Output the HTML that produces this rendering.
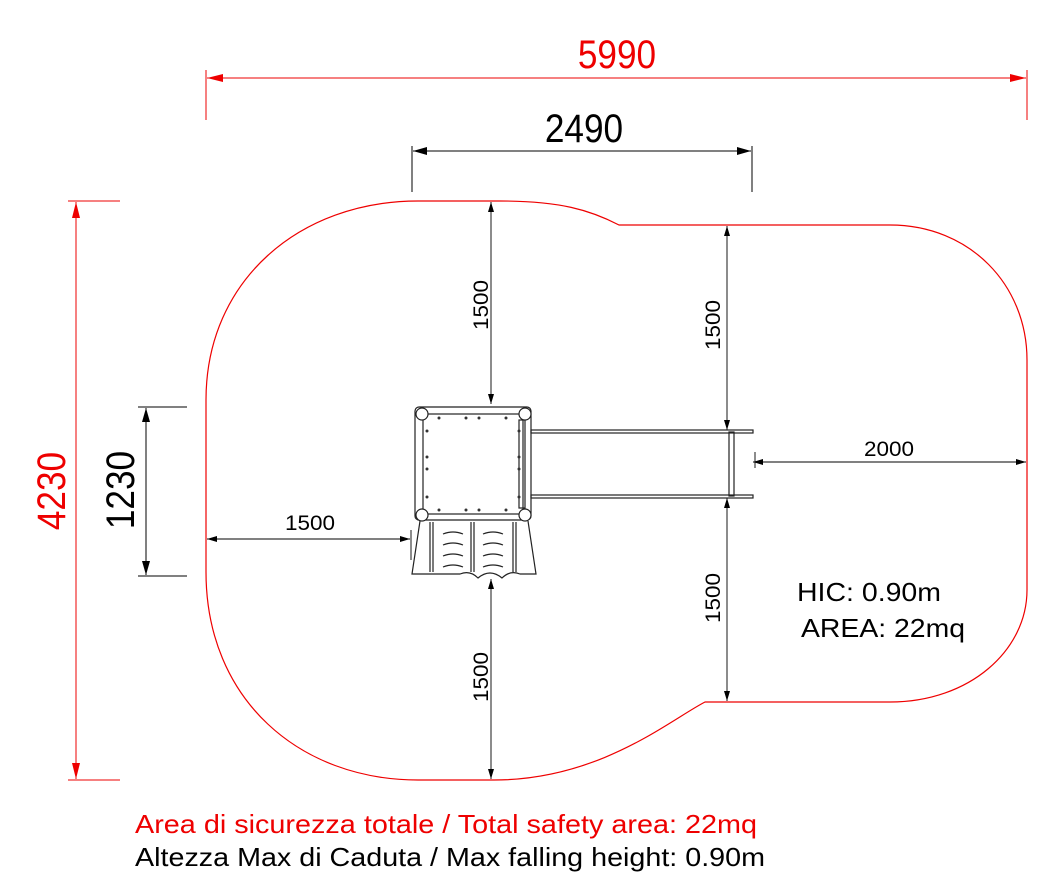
<!DOCTYPE html>
<html><head><meta charset="utf-8"><style>
html,body{margin:0;padding:0;background:#fff;}
svg{display:block;}
text{font-family:"Liberation Sans",Arial,sans-serif;}
</style></head><body>
<svg width="1062" height="894" viewBox="0 0 1062 894" xmlns="http://www.w3.org/2000/svg">
<defs>
<marker id="ab" viewBox="0 0 10 6" refX="10" refY="3" markerWidth="10" markerHeight="6" markerUnits="userSpaceOnUse" orient="auto-start-reverse"><path d="M10,3 L0,0 L0,6 Z" fill="#000"/></marker>
<marker id="ar" viewBox="0 0 16 8" refX="16" refY="4" markerWidth="16" markerHeight="8" markerUnits="userSpaceOnUse" orient="auto-start-reverse"><path d="M16,4 L0,0 L0,8 Z" fill="#e00"/></marker>
<marker id="abig" viewBox="0 0 14 8" refX="14" refY="4" markerWidth="14" markerHeight="8" markerUnits="userSpaceOnUse" orient="auto-start-reverse"><path d="M14,4 L0,0 L0,8 Z" fill="#000"/></marker>
</defs>

<path d="M206,400 C206,280 300,201 418,201 L500,201 C560,201 590,210 619,225 L890,225 C970,225 1027,285 1027,360 L1027,590 C1027,650 970,702 890,702 L705,702 C670,720 600,780 494,780 L418,780 C300,780 206,700 206,572 Z" fill="none" stroke="#e00" stroke-width="1.2"/>

<line x1="206" y1="70" x2="206" y2="120" stroke="#e00" stroke-width="1"/>
<line x1="1027" y1="70" x2="1027" y2="120" stroke="#e00" stroke-width="1"/>
<line x1="207" y1="78" x2="1026" y2="78" stroke="#e00" stroke-width="1" marker-start="url(#ar)" marker-end="url(#ar)"/>
<text x="617" y="68" font-size="40" fill="#e00" text-anchor="middle" transform="translate(617 0) scale(0.88 1) translate(-617 0)">5990</text>

<line x1="412" y1="146" x2="412" y2="192" stroke="#000" stroke-width="1"/>
<line x1="752" y1="146" x2="752" y2="192" stroke="#000" stroke-width="1"/>
<line x1="413" y1="151" x2="751" y2="151" stroke="#000" stroke-width="1" marker-start="url(#abig)" marker-end="url(#abig)"/>
<text x="584" y="142" font-size="40" fill="#000" text-anchor="middle" transform="translate(584 0) scale(0.88 1) translate(-584 0)">2490</text>

<line x1="68" y1="201" x2="120" y2="201" stroke="#e00" stroke-width="1"/>
<line x1="68" y1="780" x2="120" y2="780" stroke="#e00" stroke-width="1"/>
<line x1="76" y1="202" x2="76" y2="779" stroke="#e00" stroke-width="1" marker-start="url(#ar)" marker-end="url(#ar)"/>
<text transform="translate(65 491) rotate(-90) scale(0.88 1)" font-size="40" fill="#e00" text-anchor="middle">4230</text>

<line x1="138" y1="407" x2="187" y2="407" stroke="#000" stroke-width="1"/>
<line x1="138" y1="576" x2="187" y2="576" stroke="#000" stroke-width="1"/>
<line x1="146" y1="408" x2="146" y2="575" stroke="#000" stroke-width="1" marker-start="url(#abig)" marker-end="url(#abig)"/>
<text transform="translate(134 490) rotate(-90) scale(0.88 1)" font-size="40" fill="#000" text-anchor="middle">1230</text>

<g stroke="#000" stroke-width="0.9">
<line x1="207" y1="539" x2="410" y2="539" marker-start="url(#ab)" marker-end="url(#ab)"/>
<line x1="411" y1="530" x2="411" y2="560"/>
<line x1="491" y1="202" x2="491" y2="404" marker-start="url(#ab)" marker-end="url(#ab)"/>
<line x1="491" y1="579" x2="491" y2="779" marker-start="url(#ab)" marker-end="url(#ab)"/>
<line x1="727" y1="226" x2="727" y2="430" marker-start="url(#ab)" marker-end="url(#ab)"/>
<line x1="727" y1="498" x2="727" y2="701" marker-start="url(#ab)" marker-end="url(#ab)"/>
<line x1="753" y1="462" x2="1026" y2="462" marker-start="url(#ab)" marker-end="url(#ab)"/>
<line x1="755" y1="452" x2="755" y2="468"/>
</g>
<g font-size="21" fill="#000">
<text x="285" y="530" textLength="50" lengthAdjust="spacingAndGlyphs">1500</text>
<text transform="translate(488 330) rotate(-90)" textLength="50" lengthAdjust="spacingAndGlyphs">1500</text>
<text transform="translate(488 702) rotate(-90)" textLength="50" lengthAdjust="spacingAndGlyphs">1500</text>
<text transform="translate(720 350) rotate(-90)" textLength="50" lengthAdjust="spacingAndGlyphs">1500</text>
<text transform="translate(720 623) rotate(-90)" textLength="50" lengthAdjust="spacingAndGlyphs">1500</text>
<text x="864" y="456" textLength="50" lengthAdjust="spacingAndGlyphs">2000</text>
</g>
<text x="797" y="601" font-size="26" fill="#000" textLength="144" lengthAdjust="spacingAndGlyphs">HIC: 0.90m</text>
<text x="801" y="637" font-size="26" fill="#000" textLength="164" lengthAdjust="spacingAndGlyphs">AREA: 22mq</text>

<g fill="none" stroke="#222" stroke-width="1.2">
<rect x="415" y="407" width="116" height="113" rx="4"/>
<rect x="423" y="414" width="100" height="100"/>
<rect x="519" y="420" width="6" height="88"/>
<circle cx="422" cy="414" r="6" fill="#fff"/>
<circle cx="525" cy="414" r="6" fill="#fff"/>
<circle cx="422" cy="515" r="6" fill="#fff"/>
<circle cx="525" cy="515" r="6" fill="#fff"/>
<path d="M420,521 L412,574 L460,574 Q470,570 478,578 Q490,568 502,578 Q510,570 520,574 L536,574 L528,521"/>
<line x1="430" y1="522" x2="430" y2="572"/><line x1="433" y1="522" x2="433" y2="572"/>
<line x1="471" y1="522" x2="471" y2="572"/><line x1="474" y1="522" x2="474" y2="572"/>
<line x1="513" y1="522" x2="513" y2="572"/><line x1="516" y1="522" x2="516" y2="572"/>
<path d="M443,534 Q453,530 463,534 M443,545 Q453,541 463,545 M443,556 Q453,552 463,556 M443,567 Q453,563 463,567"/>
<path d="M483,534 Q493,530 503,534 M483,545 Q493,541 503,545 M483,556 Q493,552 503,556 M483,567 Q493,563 503,567"/>
<rect x="531" y="430" width="222" height="3"/>
<rect x="531" y="495" width="222" height="3"/>
<rect x="729" y="432" width="5" height="64"/>
</g>
<g fill="#333">
<circle cx="439" cy="418" r="1.5"/><circle cx="466" cy="418" r="1.5"/><circle cx="479" cy="418" r="1.5"/><circle cx="506" cy="418" r="1.5"/>
<circle cx="439" cy="510" r="1.5"/><circle cx="466" cy="510" r="1.5"/><circle cx="479" cy="510" r="1.5"/><circle cx="506" cy="510" r="1.5"/>
<circle cx="427" cy="431" r="1.5"/><circle cx="427" cy="457" r="1.5"/><circle cx="427" cy="469" r="1.5"/><circle cx="427" cy="497" r="1.5"/>
<circle cx="519" cy="431" r="1.5"/><circle cx="519" cy="457" r="1.5"/><circle cx="519" cy="469" r="1.5"/><circle cx="519" cy="497" r="1.5"/>
</g>

<text x="135" y="833" font-size="26" fill="#e00" textLength="622" lengthAdjust="spacingAndGlyphs">Area di sicurezza totale / Total safety area: 22mq</text>
<text x="135" y="866" font-size="26" fill="#000" textLength="630" lengthAdjust="spacingAndGlyphs">Altezza Max di Caduta / Max falling height: 0.90m</text>
</svg>
</body></html>
